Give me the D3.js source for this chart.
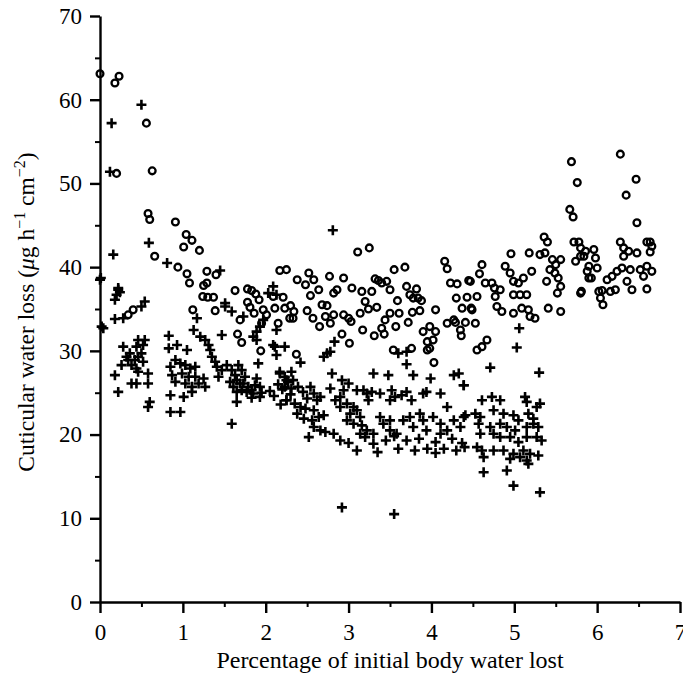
<!DOCTYPE html>
<html>
<head>
<meta charset="utf-8">
<script src="https://cdn.jsdelivr.net/npm/d3@7"></script>
<style>
  html, body { margin: 0; padding: 0; background: #fff; }
  svg { display: block; font-family: "Liberation Serif", "Times New Roman", serif; }
</style>
</head>
<body>
<svg id="chart" width="683" height="678"></svg>
<script>
// Axis ticks
const xTicks = [0, 1, 2, 3, 4, 5, 6, 7];
const xMinorTicks = [0.5, 1.5, 2.5, 3.5, 4.5, 5.5, 6.5];
const yTicks = [0, 10, 20, 30, 40, 50, 60, 70];
const yMinorTicks = [5, 15, 25, 35, 45, 55, 65];

// Open circles: [percentage water lost, cuticular water loss]
const openPoints = [
  [0.00,63.1],[0.18,62.0],[0.23,62.8],[0.56,57.2],[0.20,51.2],[0.63,51.5],
  [0.58,46.4],[0.60,45.7],[0.91,45.4],[1.04,43.9],[1.11,43.2],[1.01,42.4],[1.20,42.0],[0.66,41.3],
  [0.94,40.0],[1.05,39.2],[1.08,38.1],[1.29,39.5],[1.40,39.1],[1.25,37.8],[1.29,38.1],
  [1.24,36.5],[1.30,36.4],[1.37,36.4],[1.39,34.8],[1.12,34.9],[0.34,34.3],[0.40,34.9],
  [1.63,37.2],[1.78,37.4],[1.83,37.2],[1.88,36.8],[1.92,36.1],
  [1.78,35.8],[1.81,35.2],[1.86,34.5],[1.97,34.9],[2.01,34.3],[1.69,33.7],[1.95,33.3],
  [1.66,32.0],[1.71,31.0],[1.94,30.0],[2.15,33.3],
  [2.09,36.5],[2.21,36.4],[2.11,35.1],[2.23,35.1],[2.17,39.6],[2.25,39.7],[2.29,33.9],
  [3.11,41.8],[3.25,42.3],
  [2.38,38.5],[2.48,37.9],[2.52,39.3],[2.58,38.5],[2.64,37.3],[2.54,36.6],[2.77,38.9],[2.94,38.7],
  [2.30,35.4],[2.34,34.7],[2.33,33.9],[2.37,29.6],
  [2.50,34.8],[2.57,33.9],[2.68,35.5],[2.74,35.4],[2.65,32.9],[2.72,34.1],[2.82,34.3],[2.78,33.3],
  [2.86,37.3],[2.82,36.9],
  [2.94,34.3],[3.00,33.9],[3.04,37.5],[3.16,37.1],[3.03,33.5],[2.92,32.0],[3.01,30.9],
  [3.17,32.5],[3.31,31.8],[3.43,32.0],[3.14,34.5],[3.20,35.9],[3.24,35.0],[3.34,35.2],[3.28,37.1],
  [3.32,38.6],[3.36,38.4],[3.40,38.1],[3.46,38.3],[3.50,37.3],[3.50,34.5],[3.44,33.7],[3.40,32.7],
  [3.57,32.9],[3.59,36.0],[3.55,39.7],[3.68,40.0],
  [3.70,37.7],[3.82,37.4],[3.74,36.7],[3.78,36.3],[3.84,36.3],[3.88,36.0],[3.86,34.8],[3.77,34.6],
  [3.72,33.4],[3.61,34.5],[3.54,30.1],[3.76,30.3],
  [3.90,32.3],[3.98,32.9],[4.05,32.3],[4.02,31.3],[3.95,31.1],[3.95,30.1],[3.98,30.3],[4.03,28.6],[4.05,34.9],
  [4.16,40.7],[4.19,39.8],
  [4.23,38.1],[4.31,38.0],[4.30,36.3],[4.45,38.4],[4.43,36.4],[4.37,35.1],[4.48,35.1],[4.41,33.4],
  [4.29,33.4],[4.35,32.5],[4.36,31.8],[4.19,33.3],[4.27,33.7],
  [4.96,41.6],[5.18,41.7],[5.31,41.5],[5.37,41.7],[5.46,40.9],[5.50,40.3],[5.56,40.9],[5.74,40.7],
  [5.80,41.3],[5.86,41.9],
  [4.61,40.3],[4.58,39.2],[4.47,38.3],[4.65,38.1],[4.73,38.1],[4.76,37.5],[4.83,37.3],[4.89,40.1],
  [4.95,39.3],[4.99,38.3],[5.05,38.1],[5.11,38.7],[5.21,39.5],[5.39,38.3],[5.43,39.7],[5.49,39.3],
  [5.53,38.7],[5.56,37.7],[5.52,36.9],[5.81,37.1],[5.90,38.7],
  [4.55,36.5],[4.49,34.9],[4.53,33.3],
  [4.77,36.5],[4.79,35.3],[4.85,34.7],[4.99,36.7],[5.07,36.7],[5.15,36.7],[4.99,34.5],[5.09,35.1],
  [5.17,34.9],[5.19,34.1],[5.41,35.1],[5.56,34.7],[5.25,33.9],
  [4.67,31.3],[4.61,30.5],[4.55,30.1],
  [5.69,52.6],[5.76,50.1],[5.67,46.9],[5.71,46.0],[6.28,53.5],[6.47,50.5],[6.35,48.6],[6.48,45.3],
  [5.36,43.6],[5.40,43.0],
  [5.72,43.0],[5.78,43.0],[5.80,42.3],[5.84,41.3],[5.96,42.1],[5.98,41.1],[5.90,40.1],[5.88,39.5],
  [5.93,38.7],[6.00,39.9],[5.80,36.9],
  [6.02,37.1],[6.06,37.2],[6.04,36.3],[6.07,35.5],[6.16,37.1],[6.22,37.3],
  [6.12,38.5],[6.18,38.9],[6.24,39.5],[6.30,39.9],[6.40,39.7],[6.52,39.7],[6.60,40.1],[6.66,39.5],
  [6.56,38.9],[6.36,38.3],[6.42,37.3],[6.60,37.4],
  [6.28,43.0],[6.32,42.3],[6.32,41.3],[6.38,41.9],[6.48,41.7],[6.60,43.0],[6.64,43.0],[6.66,42.5],[6.64,41.8]
];

// Crosses: [percentage water lost, cuticular water loss]
const crossPoints = [
  [0.14,57.2],[0.50,59.4],[0.12,51.4],[0.59,42.9],[0.16,41.5],[0.00,38.5],[0.01,38.7],[0.81,40.5],[1.45,39.6],
  [0.22,37.3],[0.20,36.7],[0.18,36.1],[0.24,37.0],[0.22,37.5],
  [0.54,35.9],[0.50,35.3],[0.18,33.8],[0.28,33.9],
  [2.09,37.7],[2.13,36.7],[1.51,35.7],[1.51,35.3],[1.59,34.7],[2.03,36.9],
  [0.04,32.7],[0.02,32.9],
  [0.46,31.3],[0.54,31.3],[0.44,30.5],[0.52,30.7],
  [0.28,30.5],[0.26,28.3],[0.32,29.3],[0.36,29.7],[0.34,28.9],[0.38,28.3],[0.42,28.9],[0.46,29.3],
  [0.50,29.7],[0.52,28.7],[0.44,27.9],[0.46,27.5],[0.18,27.1],[0.22,25.1],[0.38,26.1],[0.44,26.1],
  [0.58,27.3],[0.58,26.1],[0.60,23.9],[0.58,23.3],
  [0.83,31.8],[0.83,30.3],[0.93,30.7],[1.05,30.1],[0.91,28.9],[0.97,28.5],[1.03,28.3],[1.09,27.9],
  [1.15,28.1],[0.85,28.1],[0.87,27.1],[0.99,27.3],[1.07,26.9],[1.15,26.9],[1.25,26.7],[0.91,26.3],
  [1.03,26.1],[1.11,25.7],[1.19,26.1],[0.85,24.7],[1.01,24.5],[1.11,25.1],[1.27,25.7],
  [0.85,22.7],[0.97,22.7],
  [1.13,32.5],[1.17,33.9],[1.21,31.7],[1.27,31.3],[1.31,30.7],[1.33,30.1],[1.35,29.3],[1.39,28.7],
  [1.41,28.1],[1.47,27.7],[1.43,26.9],[1.53,28.3],[1.59,27.7],[1.63,27.1],[1.65,26.5],[1.67,28.3],
  [1.71,27.7],[1.75,26.9],[1.73,26.1],[1.79,25.7],[1.83,25.3],[1.85,24.9],[1.87,25.9],[1.93,25.7],
  [1.65,23.9],[1.59,21.3],
  [1.47,31.9],[1.91,28.5],[2.11,30.5],[2.23,30.5],[2.09,30.7],[2.13,29.5],[2.13,32.5],
  [1.73,34.1],[1.97,33.7],[1.93,32.9],[1.89,32.3],[1.85,31.7],[1.89,31.3],
  [2.17,27.5],[2.23,26.9],[2.27,26.3],[2.25,24.1],
  [1.61,25.7],[1.65,25.1],[1.71,25.3],[1.77,25.1],[1.83,24.4],[1.89,26.7],[1.95,25.0],[1.93,24.5],
  [1.57,26.3],[1.69,26.1],
  [2.15,26.0],[2.20,25.4],[2.30,24.8],[2.10,24.6],[2.05,25.2],[2.18,23.6],
  [2.81,44.4],[2.42,28.6],[2.83,31.1],[2.74,29.7],[2.70,29.3],[2.78,29.9],[3.60,29.7],[3.70,29.9],[3.70,28.4],
  [2.17,27.3],[2.31,27.5],[2.25,26.5],[2.33,26.5],[2.23,25.7],[2.31,25.5],[2.39,25.7],[2.45,25.1],
  [2.54,25.7],[2.58,24.9],[2.50,24.3],[2.62,24.1],[2.66,24.5],[2.25,24.1],[2.35,23.7],[2.42,23.3],
  [2.48,23.1],[2.58,22.9],[2.38,22.5],[2.46,21.9],[2.56,21.7],[2.64,22.1],[2.70,22.3],[2.58,20.9],
  [2.66,20.5],[2.72,20.3],[2.82,20.1],[2.52,19.7],
  [2.80,27.3],[2.92,26.5],[3.00,26.1],[2.94,25.3],[2.90,24.5],[2.78,25.5],[2.84,24.1],[3.10,25.3],
  [3.18,25.3],[3.22,24.9],[3.28,25.1],[3.24,24.1],[3.38,24.9],[3.52,25.3],[3.56,24.5],[3.50,24.1],
  [3.30,27.3],[3.48,27.1],[3.64,24.7],[3.70,25.1],[3.76,24.1],[3.78,27.1],[3.99,26.7],[3.90,24.9],
  [3.94,25.1],[4.11,24.9],[4.19,23.3],[4.27,27.1],[4.33,27.3],[4.39,25.9],
  [2.90,23.3],[2.98,23.7],[3.06,23.3],[3.02,22.5],[3.10,22.9],[3.14,22.1],[2.98,21.7],[3.06,21.3],
  [3.16,21.1],[3.22,20.5],[3.14,20.1],[3.30,20.1],[3.38,22.1],[3.42,21.3],[3.50,21.7],[3.50,20.5],
  [3.58,20.1],[3.66,21.7],[3.74,22.1],[3.78,20.9],[3.86,22.5],[3.90,21.7],[3.94,20.5],[4.02,22.1],
  [4.11,21.3],[4.19,20.5],[4.27,21.7],[4.35,20.9],[4.39,22.1],[4.11,20.1],
  [2.90,19.3],[3.00,19.0],[3.20,19.7],[3.30,18.9],[3.45,19.3],[3.55,19.8],[3.60,18.3],[3.70,19.3],
  [3.80,18.1],[3.85,19.5],[3.95,18.3],[4.05,19.1],[4.15,18.3],[4.25,19.5],[4.30,18.1],[4.40,18.5],
  [3.35,17.9],[4.05,17.8],[3.10,18.1],
  [2.92,11.3],[3.55,10.5],
  [5.06,32.7],[5.03,30.4],[4.71,28.0],[5.30,27.4],[4.39,25.9],[4.41,22.3],[4.37,19.0],
  [4.61,24.1],[4.73,24.5],[4.83,24.1],[5.13,24.5],[5.15,23.9],[5.31,23.7],[5.27,23.3],[4.53,22.5],
  [4.59,22.1],[4.75,22.9],[4.87,22.5],[4.99,22.3],[5.05,21.7],[5.17,22.5],[5.23,21.9],[4.57,21.3],
  [4.71,20.9],[4.83,21.3],[4.91,20.9],[5.01,20.5],[5.15,20.9],[5.23,21.3],[5.29,20.9],[4.59,20.1],
  [4.75,20.1],[4.83,19.7],[4.95,19.7],[5.05,19.1],[5.15,19.7],[5.27,19.7],[5.33,19.3],[4.55,18.5],
  [4.61,18.1],[4.75,18.1],[4.87,18.1],[4.99,17.7],[5.11,18.1],[5.19,17.7],[5.29,17.5],[4.63,17.3],
  [4.95,17.1],[5.07,17.3],[5.15,16.9],[5.17,16.5],[4.63,15.5],[4.91,15.7],[4.99,13.9],[5.31,13.1]
];

const svg = d3.select("#chart");

const x = d3.scaleLinear().domain([0, 7]).range([100, 680]);
const y = d3.scaleLinear().domain([0, 70]).range([602, 16]);

const ink = "#000";
const serif = "'Liberation Serif', 'Times New Roman', serif";

// Minor ticks (unlabelled, shorter)
svg.append("g")
  .attr("transform", `translate(0,${y(0)})`)
  .call(d3.axisBottom(x).tickValues(xMinorTicks).tickSize(5).tickFormat(""))
  .call(g => g.select(".domain").remove())
  .call(g => g.selectAll("line").attr("stroke", ink).attr("stroke-width", 2));

svg.append("g")
  .attr("transform", `translate(${x(0)},0)`)
  .call(d3.axisLeft(y).tickValues(yMinorTicks).tickSize(5).tickFormat(""))
  .call(g => g.select(".domain").remove())
  .call(g => g.selectAll("line").attr("stroke", ink).attr("stroke-width", 2));

// Major axes
const xAxis = svg.append("g")
  .attr("transform", `translate(0,${y(0)})`)
  .call(d3.axisBottom(x).tickValues(xTicks).tickSize(11).tickSizeOuter(0).tickPadding(11).tickFormat(d3.format("d")));

const yAxis = svg.append("g")
  .attr("transform", `translate(${x(0)},0)`)
  .call(d3.axisLeft(y).tickValues(yTicks).tickSize(10).tickSizeOuter(0).tickPadding(8).tickFormat(d3.format("d")));

[xAxis, yAxis].forEach(g => {
  g.select(".domain").attr("stroke", ink).attr("stroke-width", 2.4);
  g.selectAll(".tick line").attr("stroke", ink).attr("stroke-width", 2.4);
  g.selectAll(".tick text")
    .attr("fill", ink)
    .style("font-family", serif)
    .style("font-size", "23px");
});

// Data marks
const pts = svg.append("g");

pts.selectAll("circle.open")
  .data(openPoints)
  .join("circle")
  .attr("class", "open")
  .attr("cx", d => x(d[0]))
  .attr("cy", d => y(d[1]))
  .attr("r", 3.4)
  .attr("fill", "none")
  .attr("stroke", ink)
  .attr("stroke-width", 2.3);

const arm = 5;
pts.selectAll("path.cross")
  .data(crossPoints)
  .join("path")
  .attr("class", "cross")
  .attr("d", d => {
    const cx = x(d[0]), cy = y(d[1]);
    return `M${cx - arm},${cy}H${cx + arm}M${cx},${cy - arm}V${cy + arm}`;
  })
  .attr("fill", "none")
  .attr("stroke", ink)
  .attr("stroke-width", 2.6);

// Axis titles
svg.append("text")
  .attr("x", 390)
  .attr("y", 668)
  .attr("text-anchor", "middle")
  .style("font-size", "24px")
  .attr("fill", ink)
  .text("Percentage of initial body water lost");

const yTitle = svg.append("text")
  .attr("transform", "translate(34,312) rotate(-90)")
  .attr("text-anchor", "middle")
  .style("font-size", "23.5px")
  .attr("fill", ink);
yTitle.append("tspan").text("Cuticular water loss (");
yTitle.append("tspan").style("font-style", "italic").text("\u03bc");
yTitle.append("tspan").text("g h");
yTitle.append("tspan").attr("dy", -9).style("font-size", "16px").text("\u22121");
yTitle.append("tspan").attr("dy", 9).text(" cm");
yTitle.append("tspan").attr("dy", -9).style("font-size", "16px").text("\u22122");
yTitle.append("tspan").attr("dy", 9).text(")");
</script>
</body>
</html>
